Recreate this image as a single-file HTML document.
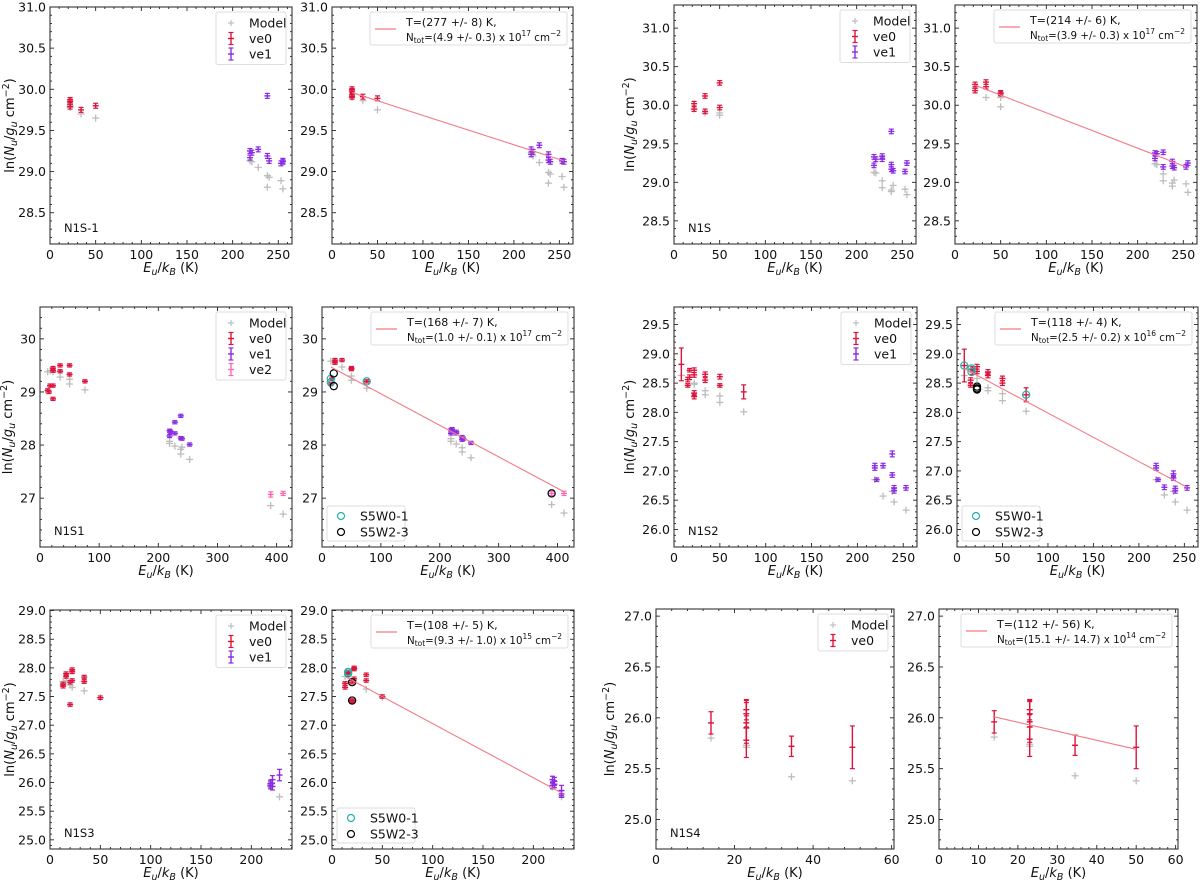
<!DOCTYPE html>
<html><head><meta charset="utf-8"><style>
html,body{margin:0;padding:0;background:#fff;}
svg{display:block;font-family:"DejaVu Sans","Liberation Sans",sans-serif;}
</style></head><body>
<svg id="fig" width="1200" height="882" viewBox="0 0 1200 882" xmlns="http://www.w3.org/2000/svg"></svg>
<script>
// ===== Data (E_u/k_B in K, ln(Nu/gu)) =====
// Panel N1S-1 (data)
const a_model_E=[22,22,34,50,219,221,228,238,238,240,253,255];
const a_model_y=[29.78,29.80,29.70,29.65,29.13,29.12,29.05,28.95,28.81,28.93,28.89,28.79];
const a_ve0_E=[22,22,22,22,34,50];
const a_ve0_y=[29.87,29.85,29.82,29.79,29.75,29.80];
const a_ve1_E=[219,219,221,228,238,238,240,253,255,255];
const a_ve1_y=[29.25,29.17,29.23,29.27,29.92,29.19,29.13,29.10,29.13,29.12];
// Panel N1S-1 (fit)
const b_model_E=[22,34,50,219,221,228,238,238,240,253,255];
const b_model_y=[29.90,29.86,29.75,29.23,29.19,29.11,28.99,28.86,28.97,28.94,28.81];
const b_ve0_E=[22,22,22,22,34,50];
const b_ve0_y=[30.00,29.98,29.93,29.91,29.91,29.89];
const b_ve1_E=[219,219,221,228,238,238,240,253,255];
const b_ve1_y=[29.27,29.21,29.24,29.32,29.21,29.14,29.12,29.13,29.12];
const b_fit_E=[22,255];
const b_fit_y=[29.96,29.13];
// Panel N1S (data)
const c_model_E=[22,34,50,50,219,221,228,228,238,238,240,253,255];
const c_model_y=[29.95,29.90,29.90,29.87,29.13,29.12,29.02,28.93,28.90,28.88,28.96,28.91,28.84];
const c_ve0_E=[22,22,34,34,50,50];
const c_ve0_y=[30.02,29.95,30.12,29.92,30.29,29.97];
const c_ve1_E=[219,219,221,228,228,238,238,238,240,253,255];
const c_ve1_y=[29.33,29.22,29.30,29.34,29.30,29.66,29.23,29.17,29.15,29.14,29.25];
// Panel N1S (fit)
const d_model_E=[22,34,50,50,219,221,228,228,238,238,240,253,255];
const d_model_y=[30.22,30.10,30.10,29.98,29.24,29.23,29.11,29.02,28.95,28.99,29.03,28.98,28.87];
const d_ve0_E=[22,22,34,34,50,50];
const d_ve0_y=[30.27,30.19,30.30,30.24,30.16,30.15];
const d_ve1_E=[219,219,221,228,228,238,238,240,253,255];
const d_ve1_y=[29.38,29.31,29.37,29.39,29.20,29.27,29.21,29.19,29.20,29.25];
const d_fit_E=[22,253];
const d_fit_y=[30.26,29.20];
// Panel N1S1 (data)
const e_model_E=[13,17,22,34,50,50,76,219,219,228,238,238,240,253,390,411];
const e_model_y=[29.38,29.40,29.38,29.28,29.24,29.15,29.04,28.07,28.03,27.98,27.83,27.92,27.96,27.73,26.86,26.70];
const e_ve0_E=[13,15,17,22,22,22,22,34,34,50,50,76];
const e_ve0_y=[29.03,29.00,29.12,29.40,29.45,29.12,28.87,29.50,29.39,29.50,29.33,29.20];
const e_ve1_E=[219,219,221,228,228,238,238,240,253];
const e_ve1_y=[28.27,28.17,28.25,28.43,28.22,28.55,28.13,28.12,28.01];
const e_ve2_E=[390,411];
const e_ve2_y=[27.07,27.09];
// Panel N1S1 (fit)
const f_model_E=[15,22,34,50,50,76,219,219,228,238,238,253,390,411];
const f_model_y=[29.58,29.58,29.47,29.30,29.22,29.07,28.12,28.07,28.02,27.87,27.95,27.76,26.88,26.72];
const f_ve0_E=[15,17,22,22,34,50,50,76];
const f_ve0_y=[29.15,29.25,29.55,29.60,29.60,29.45,29.43,29.20];
const f_ve1_E=[219,219,221,228,228,238,238,240,253];
const f_ve1_y=[28.28,28.22,28.30,28.25,28.22,28.15,28.10,28.12,28.04];
const f_ve2_E=[390,411];
const f_ve2_y=[27.09,27.09];
const f_s01_E=[15,15,76];
const f_s01_y=[29.25,29.18,29.20];
const f_s23_E=[20,20,390];
const f_s23_y=[29.35,29.11,27.09];
const f_fit_E=[15,411];
const f_fit_y=[29.47,27.12];
// Panel N1S2 (data)
const g_model_E=[8,22,22,34,34,50,50,76,219,228,238,240,253];
const g_model_y=[28.63,28.50,28.48,28.37,28.30,28.28,28.17,28.01,26.85,26.57,26.65,26.47,26.33];
const g_ve0_E=[8,15,15,17,17,22,22,22,22,34,34,50,50,76];
const g_ve0_y=[28.82,28.56,28.46,28.72,28.60,28.72,28.64,28.33,28.27,28.65,28.55,28.61,28.46,28.35];
const g_ve0_err=[0.28,0.04,0.03,0.03,0.04,0.04,0.04,0.04,0.04,0.04,0.04,0.04,0.03,0.12];
const g_ve1_E=[219,219,221,228,238,238,240,240,253];
const g_ve1_y=[27.09,27.05,26.85,27.09,27.29,26.93,26.71,26.66,26.71];
// Panel N1S2 (fit)
const h_model_E=[8,22,34,34,50,50,76,219,228,238,240,253];
const h_model_y=[28.63,28.58,28.42,28.37,28.32,28.20,28.02,26.85,26.59,26.65,26.47,26.33];
const h_ve0_E=[8,15,15,17,17,22,22,34,34,50,50,76];
const h_ve0_y=[28.80,28.55,28.46,28.75,28.69,28.78,28.70,28.69,28.63,28.58,28.50,28.30];
const h_ve0_err=[0.28,0.04,0.03,0.03,0.04,0.04,0.04,0.04,0.04,0.04,0.04,0.12];
const h_ve1_E=[219,219,221,228,238,238,240,240,253];
const h_ve1_y=[27.09,27.05,26.85,26.72,26.95,26.88,26.70,26.66,26.71];
const h_s01_E=[8,16,16,76];
const h_s01_y=[28.80,28.75,28.69,28.30];
const h_s23_E=[22,22,22];
const h_s23_y=[28.44,28.41,28.39];
const h_fit_E=[8,253];
const h_fit_y=[28.75,26.72];
// Panel N1S3 (data)
const i_model_E=[13,16,20,22,34,50,219,228];
const i_model_y=[27.76,27.78,27.70,27.66,27.60,27.48,25.93,25.75];
const i_ve0_E=[13,13,16,16,20,20,22,22,22,34,34,50];
const i_ve0_y=[27.72,27.68,27.90,27.85,27.36,27.75,27.97,27.93,27.78,27.84,27.76,27.48];
const i_ve1_E=[219,219,221,221,228];
const i_ve1_y=[25.98,25.95,26.05,25.93,26.13];
const i_ve1_err=[0.06,0.06,0.07,0.06,0.1];
// Panel N1S3 (fit)
const j_model_E=[13,34,50,219,228];
const j_model_y=[27.85,27.63,27.48,25.92,25.75];
const j_ve0_E=[13,13,16,16,20,20,20,22,22,22,34,34,50];
const j_ve0_y=[27.73,27.66,27.93,27.88,27.75,27.43,27.42,28.00,27.98,27.81,27.88,27.78,27.50];
const j_ve1_E=[219,219,221,221,228,228];
const j_ve1_y=[26.05,25.95,26.02,25.97,25.86,25.80];
const j_ve1_err=[0.06,0.06,0.07,0.06,0.09,0.06];
const j_s01_E=[16,16];
const j_s01_y=[27.93,27.90];
const j_s23_E=[20,20];
const j_s23_y=[27.75,27.43];
const j_fit_E=[14,228];
const j_fit_y=[27.84,25.82];
// Panel N1S4 (data)
const k_model_E=[14,23,23,34.5,50];
const k_model_y=[25.80,25.73,25.71,25.42,25.38];
const k_ve0_E=[14,23,23,23,23,23,34.5,50];
const k_ve0_y=[25.95,26.08,26.04,25.95,25.90,25.78,25.72,25.71];
const k_ve0_err=[0.11,0.10,0.13,0.20,0.12,0.17,0.10,0.21];
// Panel N1S4 (fit)
const l_model_E=[14,23,23,34.5,50];
const l_model_y=[25.81,25.74,25.72,25.43,25.38];
const l_ve0_E=[14,23,23,23,23,23,34.5,50];
const l_ve0_y=[25.96,26.08,26.04,25.96,25.91,25.79,25.73,25.71];
const l_ve0_err=[0.11,0.10,0.13,0.20,0.12,0.17,0.10,0.21];
const l_fit_E=[14,50];
const l_fit_y=[26.01,25.69];

const C_MODEL='#bdbdbd', C_VE0='#dc143c', C_VE1='#8a2be2', C_VE2='#ff69b4', C_FIT='#f47a85', C_S01='#20b2aa', C_S23='#000000';
const NS='http://www.w3.org/2000/svg';
const svg=document.getElementById('fig');
function mk(tag,parent){const e=document.createElementNS(NS,tag);(parent||svg).appendChild(e);return e;}
function set(e,o){for(const k in o)e.setAttribute(k,o[k]);return e;}

function panel(cfg){
  const g=mk('g');
  
  
  const [x0,x1,y0,y1]=cfg.box;
  const sx=v=>x0+(v-cfg.xr[0])/(cfg.xr[1]-cfg.xr[0])*(x1-x0);
  const sy=v=>y1-(v-cfg.yr[0])/(cfg.yr[1]-cfg.yr[0])*(y1-y0);
  cfg.sx=sx;cfg.sy=sy;cfg.g=g;
  const tg=mk('g',g);
  
  
  const eps=1e-6;
  for(let v=Math.ceil(cfg.xr[0]/cfg.xm-eps)*cfg.xm; v<=cfg.xr[1]+eps; v+=cfg.xm){
    const X=sx(v);const maj=Math.abs(v/cfg.xt-Math.round(v/cfg.xt))<1e-6;const L=maj?4:2;
    set(mk('line',tg),{x1:X,x2:X,y1:y1,y2:y1-L,stroke:'#222','stroke-width':0.9});
    set(mk('line',tg),{x1:X,x2:X,y1:y0,y2:y0+L,stroke:'#222','stroke-width':0.9});
    if(maj){const t=mk('text',g);set(t,{x:X,y:y1+15,'text-anchor':'middle','font-size':12.5,fill:'#111'});t.textContent=Math.round(v);
      
      }
  }
  for(let v=Math.ceil(cfg.yr[0]/cfg.ym-eps)*cfg.ym; v<=cfg.yr[1]+eps; v+=cfg.ym){
    const Y=sy(v);const maj=Math.abs(v/cfg.yt-Math.round(v/cfg.yt))<1e-6;const L=maj?4:2;
    set(mk('line',tg),{x1:x0,x2:x0+L,y1:Y,y2:Y,stroke:'#222','stroke-width':0.9});
    set(mk('line',tg),{x1:x1,x2:x1-L,y1:Y,y2:Y,stroke:'#222','stroke-width':0.9});
    if(maj){const t=mk('text',g);set(t,{x:x0-4,y:Y+4.5,'text-anchor':'end','font-size':12.5,fill:'#111'});t.textContent=(Math.round(v/cfg.yt)*cfg.yt).toFixed(cfg.dec);
      
      }
  }
  const fr=mk('rect',g);set(fr,{x:x0,y:y0,width:x1-x0,height:y1-y0,fill:'none',stroke:'#333','stroke-width':1.1});
  
  
  const xt=mk('text',g);set(xt,{x:(x0+x1)/2,y:y1+28,'text-anchor':'middle','font-size':13,fill:'#111'});
  xt.innerHTML='<tspan font-style="italic">E</tspan><tspan font-style="italic" font-size="9.5" dy="3">u</tspan><tspan dy="-3">/</tspan><tspan font-style="italic">k</tspan><tspan font-style="italic" font-size="9.5" dy="3">B</tspan><tspan dy="-3"> (K)</tspan>';
  
  
  if(cfg.ylab!==undefined){
    const yt=mk('text',g);const cy=(y0+y1)/2;set(yt,{x:cfg.ylab,y:cy,'text-anchor':'middle','font-size':13,fill:'#111',transform:`rotate(-90 ${cfg.ylab} ${cy})`});
    yt.innerHTML='ln(<tspan font-style="italic">N</tspan><tspan font-style="italic" font-size="9.5" dy="3">u</tspan><tspan dy="-3">/</tspan><tspan font-style="italic">g</tspan><tspan font-style="italic" font-size="9.5" dy="3">u</tspan><tspan dy="-3"> cm</tspan><tspan font-size="9.5" dy="-5">−2</tspan><tspan dy="5">)</tspan>';
    
    
  }
  if(cfg.label){const t=mk('text',g);set(t,{x:x0+14,y:y1-12,'font-size':11.5,fill:'#111'});t.textContent=cfg.label;
    
    }
  return cfg;
}
function plus(parent,X,Y,c,s,w){
  set(mk('line',parent),{x1:X-s,x2:X+s,y1:Y,y2:Y,stroke:c,'stroke-width':w});
  set(mk('line',parent),{x1:X,x2:X,y1:Y-s,y2:Y+s,stroke:c,'stroke-width':w});
}
function model(cfg,E,Y){
  const g=mk('g',cfg.g);
  
  
  E.forEach((e,i)=>plus(g,cfg.sx(e),cfg.sy(Y[i]),C_MODEL,3.5,1.3));
}
function errs(cfg,E,Y,ERR,c,name){
  const g=mk('g',cfg.g);
  
  
  E.forEach((e,i)=>{
    const X=cfg.sx(e),yc=cfg.sy(Y[i]);const er=ERR?ERR[i]:0.03;
    const ya=cfg.sy(Y[i]+er),yb=cfg.sy(Y[i]-er);
    set(mk('line',g),{x1:X,x2:X,y1:ya,y2:yb,stroke:c,'stroke-width':1.4});
    set(mk('line',g),{x1:X-2.5,x2:X+2.5,y1:ya,y2:ya,stroke:c,'stroke-width':1.2});
    set(mk('line',g),{x1:X-2.5,x2:X+2.5,y1:yb,y2:yb,stroke:c,'stroke-width':1.2});
    set(mk('line',g),{x1:X-3,x2:X+3,y1:yc,y2:yc,stroke:c,'stroke-width':1.4});
  });
}
function circles(cfg,E,Y,c,name){
  const g=mk('g',cfg.g);
  
  
  E.forEach((e,i)=>set(mk('circle',g),{cx:cfg.sx(e),cy:cfg.sy(Y[i]),r:3.6,fill:'none',stroke:c,'stroke-width':1.2}));
}
function fit(cfg,E,Y){
  const l=mk('line',cfg.g);
  set(l,{x1:cfg.sx(E[0]),x2:cfg.sx(E[1]),y1:cfg.sy(Y[0]),y2:cfg.sy(Y[1]),stroke:C_FIT,'stroke-width':1.1});
  
  
}
function dataLegend(cfg,entries){
  const [x0,x1,y0]=cfg.box;const w=70,h=entries.length*15.5+6;const lx=x1-w-6,ly=y0+5;
  const g=mk('g',cfg.g);
  
  
  set(mk('rect',g),{x:lx,y:ly,width:w,height:h,fill:'#fff',stroke:'#ddd','stroke-width':1,rx:2});
  entries.forEach((en,i)=>{
    const cy=ly+11+i*15.5,mx=lx+15;
    if(en[1]===C_MODEL) plus(g,mx,cy,C_MODEL,3,1.2);
    else{set(mk('line',g),{x1:mx,x2:mx,y1:cy-6,y2:cy+6,stroke:en[1],'stroke-width':1.4});
      set(mk('line',g),{x1:mx-2.5,x2:mx+2.5,y1:cy-6,y2:cy-6,stroke:en[1],'stroke-width':1.2});
      set(mk('line',g),{x1:mx-2.5,x2:mx+2.5,y1:cy+6,y2:cy+6,stroke:en[1],'stroke-width':1.2});
      set(mk('line',g),{x1:mx-3,x2:mx+3,y1:cy,y2:cy,stroke:en[1],'stroke-width':1.4});}
    const t=mk('text',g);set(t,{x:lx+33,y:cy+4.5,'font-size':12.5,fill:'#111'});t.textContent=en[0];
    
    
  });
}
function fitLegend(cfg,T,N,exp,w){
  const [x0,x1,y0]=cfg.box;const lx=x1-w-6,ly=y0+5;
  const g=mk('g',cfg.g);
  
  
  set(mk('rect',g),{x:lx,y:ly,width:w,height:33,fill:'#fff',stroke:'#ddd','stroke-width':1,rx:2});
  set(mk('line',g),{x1:lx+5,x2:lx+26,y1:ly+17,y2:ly+17,stroke:C_FIT,'stroke-width':1.2});
  const t1=mk('text',g);set(t1,{x:lx+36,y:ly+14,'font-size':11,fill:'#111'});t1.textContent='T=('+T+') K,';
  
  
  const t2=mk('text',g);set(t2,{x:lx+36,y:ly+29,'font-size':11,fill:'#111',textLength:w-42,lengthAdjust:'spacingAndGlyphs'});
  t2.innerHTML='N<tspan font-size="8" dy="2">tot</tspan><tspan dy="-2">=('+N+') x 10</tspan><tspan font-size="8" dy="-5">'+exp+'</tspan><tspan dy="5"> cm</tspan><tspan font-size="8" dy="-5">−2</tspan>';
  
  
}
function circLegend(cfg){
  const [x0,x1,y0,y1]=cfg.box;const lx=x0+5,ly=y1-41;
  const g=mk('g',cfg.g);
  
  
  set(mk('rect',g),{x:lx,y:ly,width:78,height:35,fill:'#fff',stroke:'#ddd','stroke-width':1,rx:2});
  [['S5W0-1',C_S01],['S5W2-3',C_S23]].forEach((en,i)=>{
    const cy=ly+10+i*16;
    set(mk('circle',g),{cx:lx+14,cy:cy,r:3.5,fill:'none',stroke:en[1],'stroke-width':1.2});
    const t=mk('text',g);set(t,{x:lx+33,y:cy+4.5,'font-size':12.5,fill:'#111'});t.textContent=en[0];
    
    
  });
}
const L3=[['Model',C_MODEL],['ve0',C_VE0],['ve1',C_VE1]];

let p;
p=panel({name:'n1s-1-data',box:[50,292,7,244],xr:[0,265],yr:[28.12,31.0],xt:50,xm:10,yt:0.5,ym:0.1,dec:1,ylab:14,label:'N1S-1'});
model(p,a_model_E,a_model_y);errs(p,a_ve0_E,a_ve0_y,null,C_VE0,'ve0-points');errs(p,a_ve1_E,a_ve1_y,null,C_VE1,'ve1-points');dataLegend(p,L3);

p=panel({name:'n1s-1-fit',box:[332,573,7,244],xr:[0,265],yr:[28.12,31.0],xt:50,xm:10,yt:0.5,ym:0.1,dec:1});
model(p,b_model_E,b_model_y);errs(p,b_ve0_E,b_ve0_y,null,C_VE0,'ve0-points');errs(p,b_ve1_E,b_ve1_y,null,C_VE1,'ve1-points');fit(p,b_fit_E,b_fit_y);fitLegend(p,'277 +/- 8','4.9 +/- 0.3','17',197);

p=panel({name:'n1s-data',box:[674,916,5,244],xr:[0,265],yr:[28.2,31.3],xt:50,xm:10,yt:0.5,ym:0.1,dec:1,ylab:634,label:'N1S'});
model(p,c_model_E,c_model_y);errs(p,c_ve0_E,c_ve0_y,null,C_VE0,'ve0-points');errs(p,c_ve1_E,c_ve1_y,null,C_VE1,'ve1-points');dataLegend(p,L3);

p=panel({name:'n1s-fit',box:[955,1197,5,244],xr:[0,265],yr:[28.2,31.3],xt:50,xm:10,yt:0.5,ym:0.1,dec:1});
model(p,d_model_E,d_model_y);errs(p,d_ve0_E,d_ve0_y,null,C_VE0,'ve0-points');errs(p,d_ve1_E,d_ve1_y,null,C_VE1,'ve1-points');fit(p,d_fit_E,d_fit_y);fitLegend(p,'214 +/- 6','3.9 +/- 0.3','17',197);

p=panel({name:'n1s1-data',box:[40,292,307,547],xr:[0,426],yr:[26.08,30.6],xt:100,xm:20,yt:1,ym:0.2,dec:0,ylab:12,label:'N1S1'});
model(p,e_model_E,e_model_y);errs(p,e_ve0_E,e_ve0_y,null,C_VE0,'ve0-points');errs(p,e_ve1_E,e_ve1_y,null,C_VE1,'ve1-points');errs(p,e_ve2_E,e_ve2_y,[0.05,0.04],C_VE2,'ve2-points');
dataLegend(p,[['Model',C_MODEL],['ve0',C_VE0],['ve1',C_VE1],['ve2',C_VE2]]);

p=panel({name:'n1s1-fit',box:[322,574,307,547],xr:[0,428],yr:[26.08,30.6],xt:100,xm:20,yt:1,ym:0.2,dec:0});
model(p,f_model_E,f_model_y);errs(p,f_ve0_E,f_ve0_y,null,C_VE0,'ve0-points');errs(p,f_ve1_E,f_ve1_y,null,C_VE1,'ve1-points');errs(p,f_ve2_E,f_ve2_y,[0.04,0.04],C_VE2,'ve2-points');
circles(p,f_s01_E,f_s01_y,C_S01,'s5w0-1-points');circles(p,f_s23_E,f_s23_y,C_S23,'s5w2-3-points');fit(p,f_fit_E,f_fit_y);fitLegend(p,'168 +/- 7','1.0 +/- 0.1','17',197);circLegend(p);

p=panel({name:'n1s2-data',box:[674,917,307,547],xr:[0,265],yr:[25.70,29.8],xt:50,xm:10,yt:0.5,ym:0.1,dec:1,ylab:634,label:'N1S2'});
model(p,g_model_E,g_model_y);errs(p,g_ve0_E,g_ve0_y,g_ve0_err,C_VE0,'ve0-points');errs(p,g_ve1_E,g_ve1_y,[0.04,0.04,0.03,0.04,0.05,0.04,0.04,0.04,0.04],C_VE1,'ve1-points');dataLegend(p,L3);

p=panel({name:'n1s2-fit',box:[957,1198,307,547],xr:[0,265],yr:[25.70,29.8],xt:50,xm:10,yt:0.5,ym:0.1,dec:1});
model(p,h_model_E,h_model_y);errs(p,h_ve0_E,h_ve0_y,h_ve0_err,C_VE0,'ve0-points');errs(p,h_ve1_E,h_ve1_y,[0.04,0.04,0.03,0.04,0.05,0.04,0.04,0.04,0.04],C_VE1,'ve1-points');
circles(p,h_s01_E,h_s01_y,C_S01,'s5w0-1-points');circles(p,h_s23_E,h_s23_y,C_S23,'s5w2-3-points');fit(p,h_fit_E,h_fit_y);fitLegend(p,'118 +/- 4','2.5 +/- 0.2','16',197);circLegend(p);

p=panel({name:'n1s3-data',box:[50,292,610,849],xr:[0,240.4],yr:[24.84,29.01],xt:50,xm:10,yt:0.5,ym:0.1,dec:1,ylab:14,label:'N1S3'});
model(p,i_model_E,i_model_y);errs(p,i_ve0_E,i_ve0_y,null,C_VE0,'ve0-points');errs(p,i_ve1_E,i_ve1_y,i_ve1_err,C_VE1,'ve1-points');dataLegend(p,L3);

p=panel({name:'n1s3-fit',box:[332,574,610,849],xr:[0,240.4],yr:[24.84,29.01],xt:50,xm:10,yt:0.5,ym:0.1,dec:1});
model(p,j_model_E,j_model_y);errs(p,j_ve0_E,j_ve0_y,null,C_VE0,'ve0-points');errs(p,j_ve1_E,j_ve1_y,j_ve1_err,C_VE1,'ve1-points');
circles(p,j_s01_E,j_s01_y,C_S01,'s5w0-1-points');circles(p,j_s23_E,j_s23_y,C_S23,'s5w2-3-points');fit(p,j_fit_E,j_fit_y);fitLegend(p,'108 +/- 5','9.3 +/- 1.0','15',197);circLegend(p);

p=panel({name:'n1s4-data',box:[656,894,609,849],xr:[0,60.6],yr:[24.71,27.07],xt:20,xm:4,yt:0.5,ym:0.1,dec:1,ylab:614,label:'N1S4'});
model(p,k_model_E,k_model_y);errs(p,k_ve0_E,k_ve0_y,k_ve0_err,C_VE0,'ve0-points');dataLegend(p,[['Model',C_MODEL],['ve0',C_VE0]]);

p=panel({name:'n1s4-fit',box:[939,1178,609,849],xr:[0,60.6],yr:[24.71,27.07],xt:10,xm:2,yt:0.5,ym:0.1,dec:1});
model(p,l_model_E,l_model_y);errs(p,l_ve0_E,l_ve0_y,l_ve0_err,C_VE0,'ve0-points');fit(p,l_fit_E,l_fit_y);fitLegend(p,'112 +/- 56','15.1 +/- 14.7','14',211);
</script>
</body></html>
